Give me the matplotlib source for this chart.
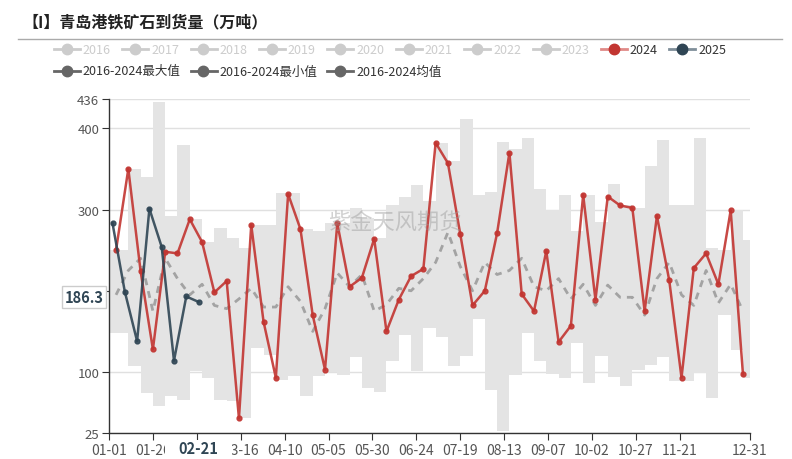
import numpy as np
import pandas as pd
import matplotlib
matplotlib.use('Agg')
import matplotlib.pyplot as plt
import matplotlib.transforms as mtransforms
from matplotlib.lines import Line2D
from matplotlib.patches import Rectangle

plt.rcParams['font.family'] = ['Noto Sans CJK SC', 'DejaVu Sans']

# weekly arrivals (10k tonnes)
dates_2024 = pd.date_range('2024-01-05', periods=52, freq='7D')
vals_2024 = [250, 350, 224, 128, 248, 246, 288, 260, 198, 212, 43,
             281, 162, 93, 319, 276, 170, 103, 283, 205, 216,
             264, 150, 189, 218, 227, 382, 357, 270, 182, 200, 271,
             370, 196, 175, 249, 137, 157, 318, 189, 316, 305,
             302, 175, 292, 213, 93, 228, 246, 208, 299, 97]

dates_2025 = pd.date_range('2025-01-03', periods=8, freq='7D')
vals_2025 = [283, 199, 138, 301, 254, 114, 193, 186.3]

# 2016-2024 max / min / mean, same weekly grid as 2024
max_vals = [250, 350, 340, 432, 292, 379, 288, 260, 277, 265, 253,
            281, 281, 320, 320, 276, 274, 283, 283, 302, 290,
            265, 306, 315, 330, 310, 382, 360, 412, 318, 322, 383,
            375, 388, 325, 300, 318, 273, 318, 285, 331, 305,
            302, 353, 385, 305, 305, 388, 253, 250, 300, 263]
min_vals = [148, 107, 74, 58, 70, 66, 101, 93, 66, 64, 43,
            130, 121, 90, 95, 70, 95, 100, 96, 119, 80,
            76, 113, 146, 101, 154, 143, 108, 120, 165, 78, 27,
            96, 148, 114, 98, 93, 136, 86, 120, 94, 83,
            103, 109, 118, 89, 89, 99, 68, 170, 127, 93]
mean_vals = [195, 225, 240, 175, 240, 215, 195, 208, 182, 178, 190,
             203, 180, 180, 205, 187, 150, 178, 222, 205, 220,
             175, 183, 203, 200, 215, 235, 272, 230, 200, 235, 220,
             225, 240, 205, 200, 215, 190, 208, 182, 207, 192,
             192, 170, 215, 235, 195, 182, 225, 185, 208, 175]

legend_years = ['2016', '2017', '2018', '2019', '2020', '2021', '2022', '2023', '2024', '2025']
legend_stats = ['2016-2024最大值', '2016-2024最小值', '2016-2024均值']

RED = '#c23531'
NAVY = '#2f4554'

x24 = (dates_2024.dayofyear - 1).to_numpy()
x25 = (dates_2025.dayofyear - 1).to_numpy()

fig = plt.figure(figsize=(7.92, 4.6), dpi=100)
ax = fig.add_axes([109 / 792, 26 / 460, 641 / 792, 334 / 460])

# band between max and min
bx = np.r_[0, x24, 365]
bmax = np.r_[max_vals[0], max_vals, max_vals[-1]]
bmin = np.r_[min_vals[0], min_vals, min_vals[-1]]
ax.fill_between(bx, bmin, bmax, step='post', color='#e4e4e4', lw=0, zorder=1)

ax.plot(x24, mean_vals, ls=(0, (2.5, 2.2)), color='#a3a3a3', lw=2, zorder=2)
ax.plot(x24, vals_2024, color=RED, lw=1.8, marker='o', ms=3.5, alpha=0.9, zorder=3)
ax.plot(x25, vals_2025, color=NAVY, lw=1.8, marker='o', ms=3.5, alpha=0.9, zorder=4)

ax.text(0.446, 0.632, '紫金天风期货', transform=ax.transAxes, fontsize=16,
        color='#999999', alpha=0.45, ha='center', va='center', zorder=5)

ax.set_xlim(0, 365)
ax.set_ylim(25, 436)
ax.set_yticks([25, 100, 200, 300, 400, 436])
xt = list(range(0, 326, 25)) + [365]
ax.set_xticks(xt)
ax.set_xticklabels([(pd.Timestamp('2024-01-01') + pd.Timedelta(days=d)).strftime('%m-%d') for d in xt])
ax.yaxis.grid(True, color='#e0e0e0', lw=1)
ax.set_axisbelow(True)
for s in ['top', 'right']:
    ax.spines[s].set_visible(False)
for s in ['left', 'bottom']:
    ax.spines[s].set_color('#333333')
    ax.spines[s].set_linewidth(1)
ax.tick_params(length=5, color='#333333', labelcolor='#555555', pad=2)
ax.tick_params(axis='x', labelsize=10)
ax.tick_params(axis='y', labelsize=9.5)

# axis pointer labels
trans = mtransforms.blended_transform_factory(ax.transData, ax.transAxes)
ptr_day = x25[-1]
ax.add_patch(Rectangle((ptr_day - 19, -0.085), 38, 0.064, transform=trans,
                       facecolor='white', edgecolor='none', clip_on=False, zorder=6))
ax.text(ptr_day, -0.046, dates_2025[-1].strftime('%m-%d'), transform=trans,
        ha='center', va='center', fontsize=10.5, fontweight='bold', color=NAVY,
        clip_on=False, zorder=7)
ax.annotate(f'{vals_2025[-1]}', xy=(0, vals_2025[-1]), xycoords=('axes fraction', 'data'),
            xytext=(-4, 3.5), textcoords='offset points', ha='right', va='center',
            fontsize=10.5, fontweight='bold', color=NAVY, zorder=7,
            bbox=dict(boxstyle='square,pad=0.2', fc='white', ec='#cccccc', lw=1))

# title and rule
fig.text(22 / 792, 1 - 22 / 460, '【I】青岛港铁矿石到货量（万吨）', fontsize=11.5,
         fontweight='bold', color='#222222', va='center', ha='left')
fig.add_artist(Line2D([18 / 792, 782 / 792], [1 - 40 / 460] * 2, color='#aaaaaa', lw=1))

# legend
def legend_item(cx, cy, label, mcolor, lcolor, tcolor):
    y = 1 - cy / 460
    fig.add_artist(Line2D([(cx - 13) / 792, (cx + 13) / 792], [y, y], color=lcolor, lw=2))
    fig.add_artist(Line2D([cx / 792], [y], marker='o', ms=7.5, color=mcolor, lw=0))
    fig.text((cx + 16) / 792, y, label, fontsize=9, color=tcolor, va='center', ha='left')

for i, yr in enumerate(legend_years):
    cx = 66.7 + 68.4 * i
    if yr == '2024':
        legend_item(cx, 50, yr, RED, '#e08a87', '#333333')
    elif yr == '2025':
        legend_item(cx, 50, yr, NAVY, '#7f8e99', '#333333')
    else:
        legend_item(cx, 50, yr, '#cccccc', '#cccccc', '#cccccc')
for i, lab in enumerate(legend_stats):
    legend_item(66.7 + 136.8 * i, 72, lab, '#666666', '#666666', '#333333')

fig.savefig('out.png', dpi=100)
